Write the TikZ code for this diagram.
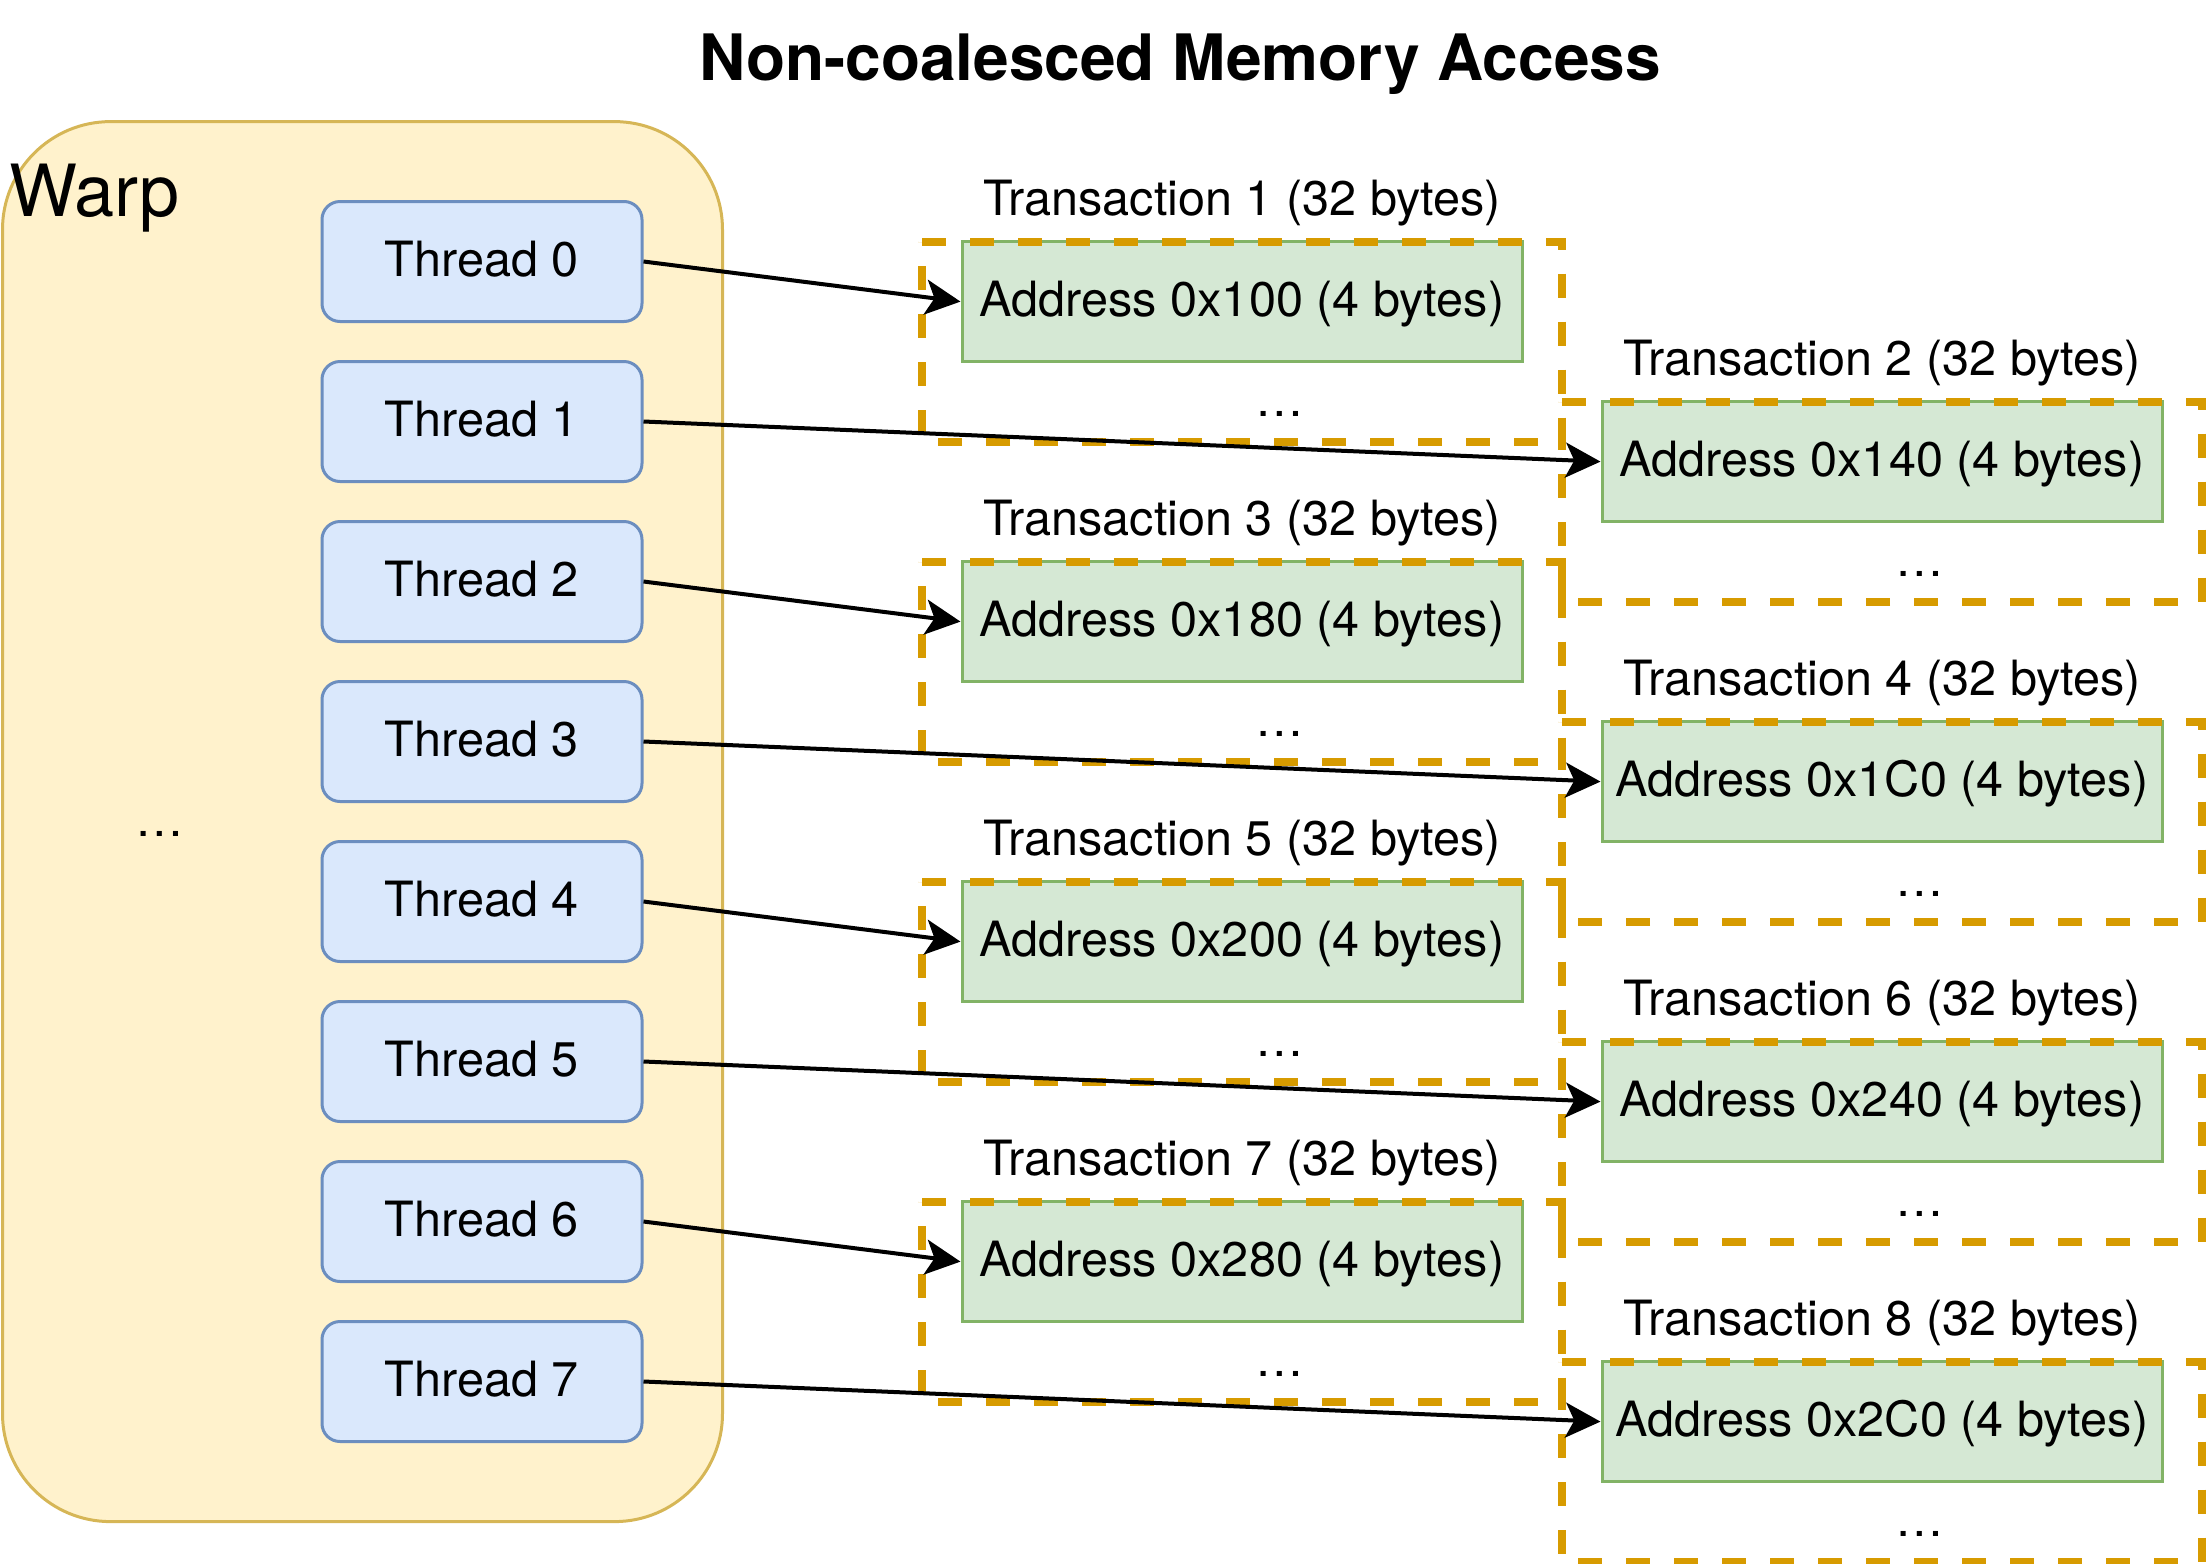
\documentclass[tikz,border=0pt]{standalone}
\usepackage{fontspec}
\setmainfont{TeX Gyre Heros}
\usetikzlibrary{arrows.meta}
\definecolor{warpfill}{HTML}{FFF2CC}
\definecolor{warpline}{HTML}{D6B656}
\definecolor{thfill}{HTML}{DAE8FC}
\definecolor{thline}{HTML}{6C8EBF}
\definecolor{adfill}{HTML}{D5E8D4}
\definecolor{adline}{HTML}{82B366}
\definecolor{trline}{HTML}{D79B00}
\begin{document}
\begin{tikzpicture}[x=1pt,y=-1pt,
  t24/.style={font=\fontsize{24.3}{29}\selectfont, text height=17.5pt, text depth=3pt, inner sep=0pt},
  threadbox/.style={t24, draw=thline, fill=thfill, line width=1.5pt, rounded corners=9pt, minimum width=160pt, minimum height=60pt},
  addrbox/.style={t24, draw=adline, fill=adfill, line width=1.5pt, minimum width=280pt, minimum height=60pt},
  transframe/.style={draw=none, minimum width=320pt, minimum height=100pt, inner sep=0pt, outer sep=0pt},
  dashline/.style={draw=trline, line width=4pt, dash pattern=on 12pt off 12pt},
  lbl/.style={font=\fontsize{24.3}{29}\selectfont, inner sep=0pt, anchor=base},
  conn/.style={line width=2pt, -{Stealth[length=17.5pt,width=17.5pt,inset=4.4pt]}},
]
\useasboundingbox (0,0) rectangle (1104,782);

% warp container
\node[draw=warpline, fill=warpfill, line width=1.5pt, rounded corners=54pt,
      minimum width=360pt, minimum height=700pt, inner sep=0pt] (warp) at (181.25,410.8) {};
\node[font=\fontsize{36}{43}\selectfont, inner sep=0pt, anchor=base west] (warplabel) at (4.5,108.3) {Warp};
\node[lbl] (warpdots) at (80,418) {…};

% title
\node[font=\fontsize{32}{38}\selectfont\bfseries, inner sep=0pt, anchor=base] (title) at (590,40) {Non-coalesced Memory Access};

% threads
\foreach \i in {0,...,7} {
  \node[threadbox] (th\i) at (241,{130.75+80*\i}) {Thread \i};
}

% transactions
\foreach \k/\addr in {1/100,2/140,3/180,4/1C0,5/200,6/240,7/280,8/2C0} {
  \pgfmathsetmacro{\cx}{mod(\k,2)==1 ? 621 : 941}
  \pgfmathsetmacro{\ty}{120.8+80*(\k-1)}
  \node[addrbox] (ad\k) at (\cx,{\ty+30}) {Address 0x\addr\ (4 bytes)};
  \node[transframe] (tr\k) at (\cx,{\ty+50}) {};
  \draw[dashline] (tr\k.north west) -- (tr\k.north east) -- (tr\k.south east) -- (tr\k.south west) -- cycle;
  \node[lbl] (lab\k) at (\cx,{\ty-13}) {Transaction \k\ (32 bytes)};
  \node[lbl] (dots\k) at ({\cx+19},{\ty+87.2}) {…};
}

% connectors
\foreach \i in {0,...,7} {
  \pgfmathtruncatemacro{\j}{\i+1}
  \draw[conn] (th\i.east) -- (ad\j.west);
}
\end{tikzpicture}
\end{document}
